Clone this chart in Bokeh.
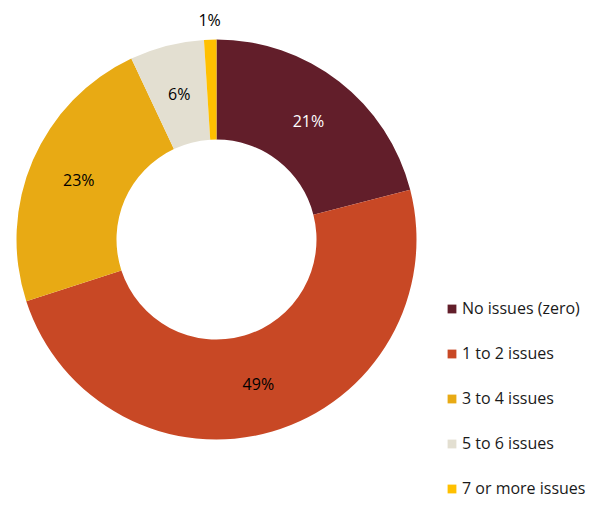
import numpy as np
from bokeh.plotting import figure
from bokeh.models import Range1d, ColumnDataSource, Legend, LegendItem
from bokeh.core.properties import value
from bokeh.embed import file_html
from bokeh.resources import INLINE

categories = ["No issues (zero)", "1 to 2 issues", "3 to 4 issues", "5 to 6 issues", "7 or more issues"]
shares = [21, 49, 23, 6, 1]
colors = ["#621E2A", "#C84825", "#E8AA14", "#E3DFD1", "#FFC000"]
label_colors = ["#FFFFFF", "#000000", "#000000", "#000000", "#000000"]

W, H = 589, 499
FONT = "Open Sans"

# pixel based data coordinates (y up, origin at bottom-left of the canvas)
cx, cy = 216, H - 239
r_out, r_in = 200, 100

vals = np.array(shares, dtype=float)
total = vals.sum()
cum = np.concatenate([[0], np.cumsum(vals)])
start = np.pi / 2 - 2 * np.pi * cum[:-1] / total
end = np.pi / 2 - 2 * np.pi * cum[1:] / total
mid = np.pi / 2 - 2 * np.pi * (cum[:-1] + vals / 2) / total
lab_r = np.where(vals >= 3, (r_out + r_in) / 2, r_out + 20)
lab_x = cx + lab_r * np.cos(mid)
lab_y = cy + lab_r * np.sin(mid)

src = ColumnDataSource(dict(
    cat=categories, start=start, end=end, color=colors,
    lx=lab_x, ly=lab_y, txt=[f"{v}%" for v in shares], tcol=label_colors,
))

p = figure(width=W, height=H, output_backend="svg", toolbar_location=None,
           x_range=Range1d(0, W), y_range=Range1d(0, H),
           min_border=0, outline_line_color=None)
p.axis.visible = False
p.grid.visible = False
p.background_fill_color = "white"
p.border_fill_color = "white"

wedges = p.annular_wedge(x=cx, y=cy, inner_radius=r_in, outer_radius=r_out,
                         start_angle="start", end_angle="end", direction="clock",
                         fill_color="color", line_color=None, source=src)

p.text(x="lx", y="ly", text="txt", text_color="tcol", source=src,
       text_align="center", text_baseline="middle",
       text_font=value(FONT), text_font_size="16px")

items = [LegendItem(label=c, renderers=[wedges], index=i) for i, c in enumerate(categories)]
legend = Legend(items=items, location=(446, 0), orientation="vertical",
                glyph_width=11, glyph_height=11, label_standoff=5,
                label_height=20, spacing=23, padding=0, margin=0,
                border_line_color=None, background_fill_alpha=0,
                label_text_font=FONT, label_text_font_size="16px",
                label_text_color="#1A1A1A")
p.add_layout(legend, "center")

open("out.html", "w").write(file_html(p, INLINE))
